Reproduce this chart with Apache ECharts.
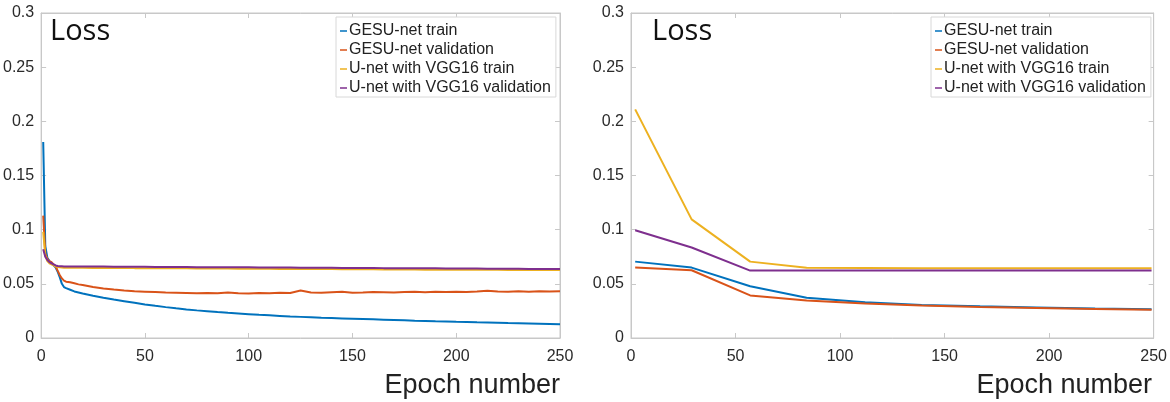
<!DOCTYPE html>
<html>
<head>
<meta charset="utf-8">
<script src="https://cdn.jsdelivr.net/npm/echarts@6/dist/echarts.min.js"></script>
<style>
  html, body { margin: 0; padding: 0; background: #fff; }
  #main { width: 1170px; height: 402px; }
</style>
</head>
<body>
<div id="main"></div>
<script>
// 数据：左图（每个 epoch 的损失）
var seriesNames = ['GESU-net train', 'GESU-net validation', 'U-net with VGG16 train', 'U-net with VGG16 validation'];
var colors = ['#0072BD', '#D95319', '#EDB120', '#7E2F8E'];
var yTicks = [0, 0.05, 0.1, 0.15, 0.2, 0.25, 0.3];
var xTicks = [0, 50, 100, 150, 200, 250];

var leftEpochs = [1, 2, 3, 4, 5, 6, 7, 8, 9, 10, 11, 12, 14, 16, 18,
    20, 25, 30, 35, 40, 45, 50, 55, 60, 65, 70, 75, 80, 85, 90, 95, 100,
    105, 110, 115, 120, 125, 130, 135, 140, 145, 150, 155, 160, 165, 170, 175,
    180, 185, 190, 195, 200, 205, 210, 215, 220, 225, 230, 235, 240, 245, 250];

var leftGesuTrain = [0.181, 0.085, 0.074, 0.071, 0.069, 0.067, 0.065, 0.061, 0.056, 0.050, 0.047, 0.046, 0.0445, 0.043, 0.042,
    0.0410, 0.0390, 0.0372, 0.0355, 0.0340, 0.0325, 0.0310, 0.0297, 0.0285, 0.0274, 0.0264, 0.0255, 0.0247, 0.0239, 0.0232, 0.0226, 0.0220,
    0.0214, 0.0209, 0.0204, 0.0199, 0.0195, 0.0191, 0.0187, 0.0184, 0.0181, 0.0178, 0.0175, 0.0172, 0.0169, 0.0166, 0.0163,
    0.0160, 0.0158, 0.0155, 0.0153, 0.0150, 0.0148, 0.0145, 0.0143, 0.0141, 0.0138, 0.0136, 0.0134, 0.0132, 0.0130, 0.0127];

var leftGesuVal = [0.113, 0.078, 0.073, 0.071, 0.070, 0.068, 0.066, 0.062, 0.058, 0.055, 0.053, 0.052, 0.0515, 0.0505, 0.0495,
    0.0490, 0.0470, 0.0458, 0.0447, 0.0438, 0.0432, 0.0428, 0.0424, 0.0420, 0.0418, 0.0416, 0.0412, 0.0415, 0.0413, 0.0420, 0.0414, 0.0411,
    0.0416, 0.0413, 0.0418, 0.0415, 0.0438, 0.0420, 0.0417, 0.0422, 0.0427, 0.0418, 0.0421, 0.0425, 0.0423, 0.0420, 0.0424,
    0.0427, 0.0423, 0.0426, 0.0424, 0.0428, 0.0425, 0.0429, 0.0437, 0.0430, 0.0427, 0.0431, 0.0428, 0.0432, 0.0430, 0.0432];

var leftVggTrain = [0.098, 0.076, 0.071, 0.069, 0.068, 0.067, 0.066, 0.0655, 0.0652, 0.0650, 0.0649, 0.0648, 0.0648, 0.0648, 0.0648,
    0.0648, 0.0647, 0.0647, 0.0646, 0.0646, 0.0645, 0.0645, 0.0644, 0.0644, 0.0643, 0.0643, 0.0642, 0.0642, 0.0641, 0.0641, 0.0640, 0.0640,
    0.0639, 0.0639, 0.0638, 0.0638, 0.0637, 0.0637, 0.0636, 0.0636, 0.0635, 0.0635, 0.0634, 0.0634, 0.0633, 0.0633, 0.0632,
    0.0632, 0.0631, 0.0631, 0.0630, 0.0630, 0.0630, 0.0629, 0.0629, 0.0629, 0.0628, 0.0628, 0.0628, 0.0628, 0.0627, 0.0627];

var leftVggVal = [0.082, 0.075, 0.072, 0.070, 0.069, 0.068, 0.067, 0.0665, 0.0663, 0.0662, 0.0661, 0.0661, 0.0660, 0.0660, 0.0660,
    0.0660, 0.0659, 0.0659, 0.0658, 0.0658, 0.0657, 0.0657, 0.0656, 0.0656, 0.0655, 0.0655, 0.0654, 0.0654, 0.0653, 0.0653, 0.0652, 0.0652,
    0.0651, 0.0651, 0.0650, 0.0650, 0.0649, 0.0649, 0.0648, 0.0648, 0.0647, 0.0647, 0.0646, 0.0646, 0.0645, 0.0645, 0.0644,
    0.0644, 0.0643, 0.0643, 0.0642, 0.0642, 0.0641, 0.0641, 0.0640, 0.0640, 0.0639, 0.0639, 0.0638, 0.0638, 0.0637, 0.0637];

// 数据：右图（稀疏采样）
var rightEpochs = [2, 29, 57, 84, 112, 139, 167, 194, 222, 249];
var rightGesuTrain = [0.0705, 0.0650, 0.0477, 0.0372, 0.0330, 0.0305, 0.0292, 0.0282, 0.0272, 0.0265];
var rightGesuVal = [0.0650, 0.0625, 0.0393, 0.0347, 0.0318, 0.0300, 0.0287, 0.0277, 0.0268, 0.0260];
var rightVggTrain = [0.2110, 0.1095, 0.0705, 0.0648, 0.0646, 0.0645, 0.0645, 0.0645, 0.0645, 0.0645];
var rightVggVal = [0.0995, 0.0835, 0.0622, 0.0622, 0.0622, 0.0622, 0.0622, 0.0622, 0.0622, 0.0622];

function pairs(xs, ys) {
    return xs.map(function (x, i) { return [x, ys[i]]; });
}

var frameColor = '#c8c8c8';
var labelColor = '#2a2a2a';
var fontFamily = 'Liberation Sans, Arial, sans-serif';

function xAxisFor(grid, pos) {
    return {
        type: 'value', gridIndex: grid, position: pos,
        min: xTicks[0], max: xTicks[xTicks.length - 1], interval: 50,
        axisLine: { show: true, onZero: false, lineStyle: { color: frameColor, width: 1 } },
        axisTick: { show: true, inside: true, length: 5, lineStyle: { color: frameColor } },
        axisLabel: { show: pos === 'bottom', color: labelColor, fontSize: 16, fontFamily: fontFamily, margin: 11 },
        splitLine: { show: false }
    };
}

function yAxisFor(grid, pos) {
    return {
        type: 'value', gridIndex: grid, position: pos,
        min: yTicks[0], max: yTicks[yTicks.length - 1], interval: 0.05,
        axisLine: { show: true, onZero: false, lineStyle: { color: frameColor, width: 1 } },
        axisTick: { show: true, inside: true, length: 5, lineStyle: { color: frameColor } },
        axisLabel: { show: pos === 'left', color: labelColor, fontSize: 16, fontFamily: fontFamily, margin: 7 },
        splitLine: { show: false }
    };
}

function lineSeries(name, idx, axis, data) {
    return {
        name: name, type: 'line', xAxisIndex: axis, yAxisIndex: axis,
        data: data, showSymbol: false, symbol: 'none', smooth: false,
        lineStyle: { color: colors[idx], width: 2 },
        itemStyle: { color: colors[idx] },
        animation: false
    };
}

function legendFor(left) {
    return {
        left: left, top: 17, orient: 'vertical',
        data: seriesNames,
        icon: 'rect',
        itemWidth: 7, itemHeight: 1.5, itemGap: 3,
        padding: [6, 5, 1, 4],
        backgroundColor: '#fff', borderColor: '#d8d8d8', borderWidth: 1,
        textStyle: { color: '#222', fontSize: 16, fontFamily: fontFamily, padding: [0, 0, 0, -3] },
        selectedMode: false
    };
}

var myChart = echarts.init(document.getElementById('main'));
myChart.setOption({
    animation: false,
    grid: [
        { left: 37, top: 13, width: 523, height: 325, show: true, borderColor: frameColor, borderWidth: 1, backgroundColor: '#fff' },
        { left: 631, top: 13, width: 524, height: 325, show: true, borderColor: frameColor, borderWidth: 1, backgroundColor: '#fff' }
    ],
    xAxis: [xAxisFor(0, 'bottom'), xAxisFor(0, 'top'), xAxisFor(1, 'bottom'), xAxisFor(1, 'top')],
    yAxis: [yAxisFor(0, 'left'), yAxisFor(0, 'right'), yAxisFor(1, 'left'), yAxisFor(1, 'right')],
    legend: [legendFor(336), legendFor(931)],
    series: [
        lineSeries(seriesNames[0], 0, 0, pairs(leftEpochs, leftGesuTrain)),
        lineSeries(seriesNames[1], 1, 0, pairs(leftEpochs, leftGesuVal)),
        lineSeries(seriesNames[2], 2, 0, pairs(leftEpochs, leftVggTrain)),
        lineSeries(seriesNames[3], 3, 0, pairs(leftEpochs, leftVggVal)),
        lineSeries(seriesNames[0], 0, 2, pairs(rightEpochs, rightGesuTrain)),
        lineSeries(seriesNames[1], 1, 2, pairs(rightEpochs, rightGesuVal)),
        lineSeries(seriesNames[2], 2, 2, pairs(rightEpochs, rightVggTrain)),
        lineSeries(seriesNames[3], 3, 2, pairs(rightEpochs, rightVggVal))
    ],
    graphic: [
        { type: 'text', left: 50, top: 17, style: { text: 'Loss', font: '29px "Open Sans", sans-serif', fill: '#111' } },
        { type: 'text', left: 652, top: 17, style: { text: 'Loss', font: '29px "Open Sans", sans-serif', fill: '#111' } },
        { type: 'text', right: 610, top: 372, style: { text: 'Epoch number', font: '27px "Liberation Sans", Arial, sans-serif', fill: '#222' } },
        { type: 'text', right: 18, top: 372, style: { text: 'Epoch number', font: '27px "Liberation Sans", Arial, sans-serif', fill: '#222' } }
    ]
});
</script>
</body>
</html>
